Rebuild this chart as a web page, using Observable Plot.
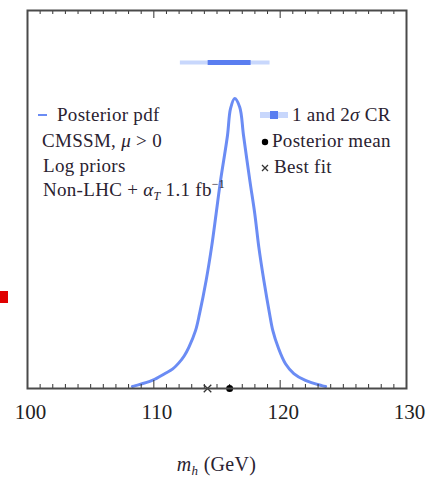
<!DOCTYPE html>
<html><head><meta charset="utf-8">
<script src="https://cdn.jsdelivr.net/npm/d3@7"></script>
<script src="https://cdn.jsdelivr.net/npm/@observablehq/plot@0.6"></script>
<style>
html,body{margin:0;padding:0;background:#fff;}
#wrap{position:relative;width:431px;height:478px;overflow:hidden;}
#wrap svg{position:absolute;left:0;top:0;}
#mark{position:absolute;left:0;top:291px;width:8px;height:12px;background:#e00000;z-index:2;}
</style></head><body>
<div id="wrap"><div id="mark"></div></div>
<script>
// Higgs mass (GeV) and relative posterior pdf
const mh  = [108.3, 108.55, 109.87, 110.92, 111.5, 111.98, 112.4, 112.77, 113.3, 113.62, 114.14, 114.57, 114.93, 115.28, 115.83, 116.07, 116.4, 116.8, 117.1, 117.6, 117.99, 118.31, 118.71, 119.16, 119.42, 119.84, 120.42, 121.08, 122.0, 123.3, 123.6];
const pdf = [0.0,   0.003,  0.021,  0.046,  0.061, 0.082,  0.106, 0.136,  0.194, 0.253,  0.368,  0.484,  0.60,   0.715,  0.872,  0.965,  1.0,   0.97,  0.872, 0.715, 0.60,   0.484,  0.368,  0.253,  0.194,  0.136,  0.079,  0.045,  0.021, 0.003, 0.0];
// credible regions (GeV)
const cr2 = [112.1, 119.2];
const cr1 = [114.3, 117.7];
const crLevel = 1.125;
const posteriorMean = [116.0];
const bestFit = [114.25];
const tickLabels = [100, 110, 120, 130];
const majorTicks = [110, 120];
const minorTicks = [101,102,103,104,105,106,107,108,109,111,112,113,114,115,116,117,118,119,121,122,123,124,125,126,127,128,129];
const yDomain = [-0.007, 1.306];

const W = 431, H = 478, mL = 27, mR = 25, mT = 10, mB = 90;
const frameH = H - mT - mB;
const curveData = mh.map((x, i) => ({x, y: pdf[i]}));
const blue = "#6b8cf4";
const serif = "'Liberation Serif', 'DejaVu Serif', serif";

const plot = Plot.plot({
  width: W, height: H,
  marginLeft: mL, marginRight: mR, marginTop: mT, marginBottom: mB,
  style: {fontFamily: serif, fontSize: "20px", color: "#222", background: "#fff"},
  x: {domain: [100, 130], label: null},
  y: {domain: yDomain, axis: null},
  marks: [
    Plot.ruleY([crLevel], {x1: cr2[0], x2: cr2[1], stroke: "#c8d7fc", strokeWidth: 4}),
    Plot.ruleY([crLevel], {x1: cr1[0], x2: cr1[1], stroke: "#5a7ef0", strokeWidth: 5}),
    Plot.line(curveData, {x: "x", y: "y", curve: "catmull-rom", stroke: blue, strokeWidth: 3}),
    Plot.tickX(minorTicks, {x: d => d, insetTop: frameH - 4, stroke: "#333", strokeWidth: 1}),
    Plot.tickX(minorTicks, {x: d => d, insetBottom: frameH - 4, stroke: "#333", strokeWidth: 1}),
    Plot.tickX(majorTicks, {x: d => d, insetTop: frameH - 8, stroke: "#333", strokeWidth: 1}),
    Plot.tickX(majorTicks, {x: d => d, insetBottom: frameH - 8, stroke: "#333", strokeWidth: 1}),
    Plot.dot(posteriorMean, {x: d => d, y: () => yDomain[0], r: 3.5, fill: "#000"}),
    Plot.dot(bestFit, {x: d => d, y: () => yDomain[0], symbol: "times", r: 3.5, stroke: "#333", strokeWidth: 1.3}),
    Plot.frame({stroke: "#4a4a4a", strokeWidth: 2}),
    Plot.axisX({ticks: tickLabels, tickSize: 0, tickPadding: 16, dx: 3, fontSize: 21, fill: "#222",
                style: "letter-spacing:1.5px"})
  ]
});
document.getElementById("wrap").appendChild(plot);

const svg = d3.select(plot);
const g = svg.append("g").attr("font-family", serif).attr("fill", "#2a2230")
  .attr("font-size", 19).attr("text-anchor", "start").attr("letter-spacing", "0.3px");

// left legend block
g.append("line").attr("x1", 38).attr("x2", 47).attr("y1", 115).attr("y2", 115).attr("stroke", blue).attr("stroke-width", 2);
g.append("text").attr("x", 57).attr("y", 121).text("Posterior pdf");
const t2 = g.append("text").attr("x", 42).attr("y", 147);
t2.append("tspan").text("CMSSM, ");
t2.append("tspan").attr("font-style", "italic").text("μ");
t2.append("tspan").text(" > 0");
g.append("text").attr("x", 43).attr("y", 172).text("Log priors");
const t4 = g.append("text").attr("x", 43).attr("y", 196);
t4.append("tspan").text("Non-LHC + ");
t4.append("tspan").attr("font-style", "italic").text("α");
t4.append("tspan").attr("font-style", "italic").attr("font-size", 12).attr("dy", 4).text("T");
t4.append("tspan").attr("dy", -4).text(" 1.1 fb");
t4.append("tspan").attr("font-size", 12).attr("dy", -8).text("−1");

// right legend block
g.append("rect").attr("x", 260).attr("y", 112).attr("width", 28).attr("height", 6).attr("fill", "#c8d7fc");
g.append("rect").attr("x", 270).attr("y", 111).attr("width", 8).attr("height", 8).attr("fill", "#5a7ef0");
const r1 = g.append("text").attr("x", 292).attr("y", 121);
r1.append("tspan").text("1 and 2");
r1.append("tspan").attr("font-style", "italic").text("σ");
r1.append("tspan").text(" CR");
g.append("circle").attr("cx", 265).attr("cy", 142).attr("r", 3.2).attr("fill", "#000");
g.append("text").attr("x", 272).attr("y", 147).text("Posterior mean");
g.append("path").attr("d", "M262,165L268,171M268,165L262,171").attr("stroke", "#333").attr("stroke-width", 1.3);
g.append("text").attr("x", 274).attr("y", 173).text("Best fit");

// x-axis title
const xl = g.append("text").attr("x", (mL + W - mR) / 2).attr("y", 471).attr("text-anchor", "middle").attr("font-size", 20);
xl.append("tspan").attr("font-style", "italic").text("m");
xl.append("tspan").attr("font-style", "italic").attr("font-size", 13).attr("dy", 4).text("h");
xl.append("tspan").attr("dy", -4).text(" (GeV)");
</script>
</body></html>
